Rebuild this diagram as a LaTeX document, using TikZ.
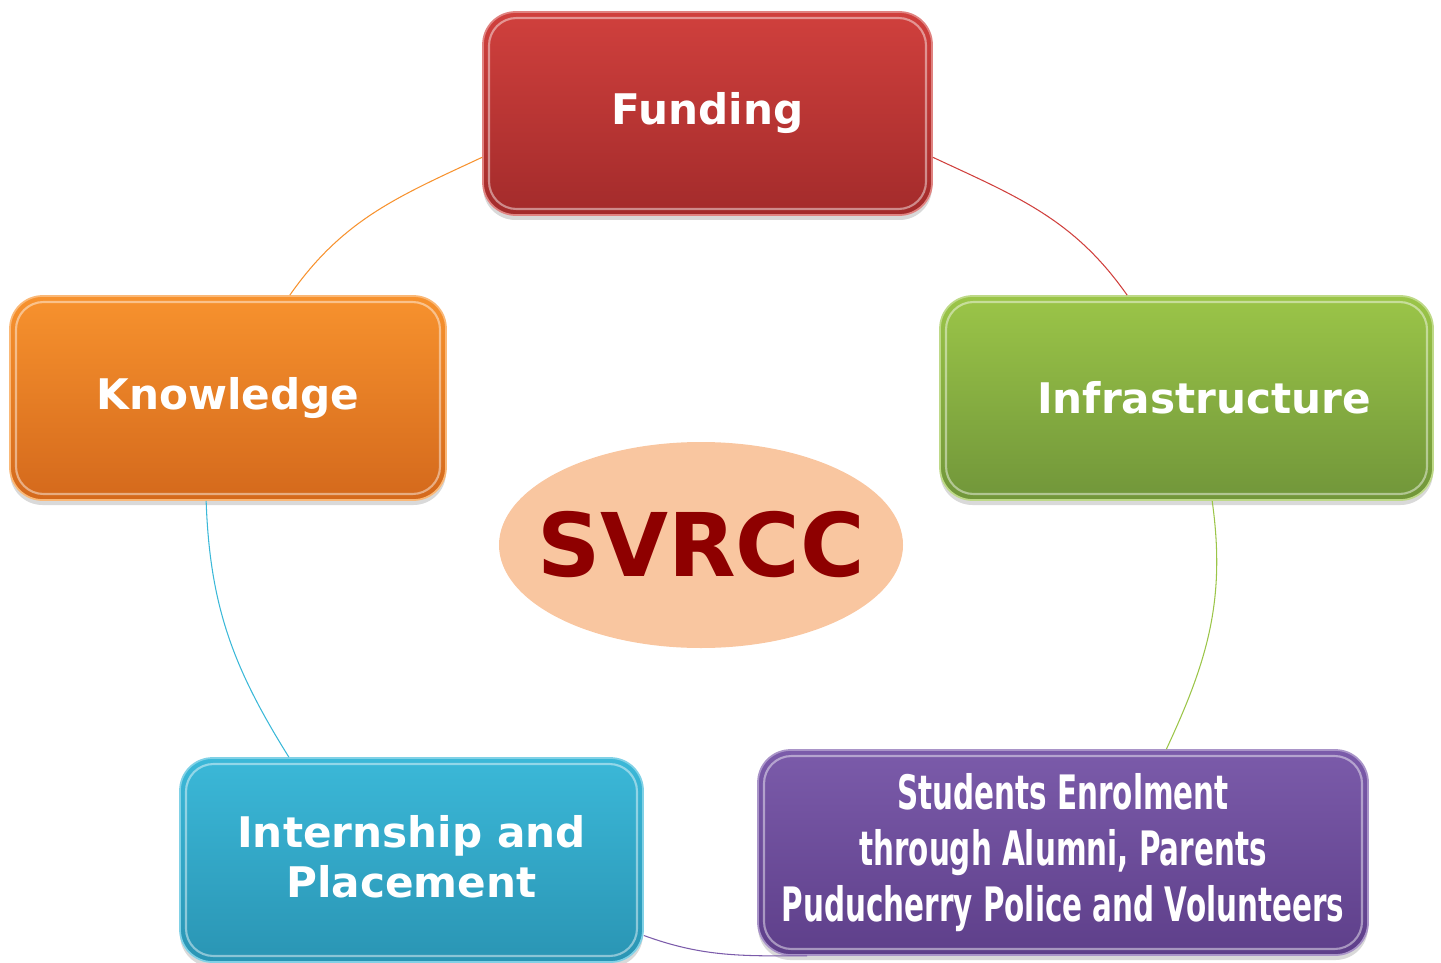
\documentclass[tikz,border=0pt]{standalone}
\usepackage{fontspec}
\setmainfont{DejaVu Sans}
\newfontfamily\narrowfont{DejaVu Sans}[FakeStretch=0.62]
\usetikzlibrary{shapes.geometric,shadows}
\definecolor{fundtop}{HTML}{D0403D}\definecolor{fundbot}{HTML}{A32B2B}
\definecolor{knowtop}{HTML}{F7922E}\definecolor{knowbot}{HTML}{D4691C}
\definecolor{infratop}{HTML}{9BC548}\definecolor{infrabot}{HTML}{71963A}
\definecolor{interntop}{HTML}{3BB8D8}\definecolor{internbot}{HTML}{2A95B4}
\definecolor{stutop}{HTML}{7B5BAA}\definecolor{stubot}{HTML}{5E3F8A}
\definecolor{svpeach}{HTML}{F9C6A0}\definecolor{svred}{HTML}{8E0000}

\begin{document}
\begin{tikzpicture}[box/.style 2 args={rectangle, rounded corners=0.65cm, minimum height=4.08cm, top color=#1, bottom color=#2, draw=#1!65!white, line width=1pt, text=white, align=center, font=\fontsize{24}{28.5}\selectfont\bfseries, drop shadow={opacity=0.3, shadow xshift=0cm, shadow yshift=-0.1cm}, path picture={\draw[white, opacity=0.45, line width=1.2pt, rounded corners=0.55cm] ([shift={(0.12,-0.12)}]path picture bounding box.north west) rectangle ([shift={(-0.12,0.12)}]path picture bounding box.south east);}}, link/.style={line width=0.6pt}]
\useasboundingbox (0,0) rectangle (28.82,19.24);
\node[ellipse, fill=svpeach, minimum width=8.08cm, minimum height=4.12cm, label={[text=svred, font=\fontsize{50}{55}\selectfont\bfseries]center:SVRCC}] (svrcc) at (14.02,8.34) {};
\node[box={fundtop}{fundbot}, minimum width=8.98cm, minimum height=4.06cm] (fund) at (14.15,16.97) {Funding};
\node[box={infratop}{infrabot}, minimum width=9.86cm] (infra) at (23.73,11.28) {\hspace{0.7cm}Infrastructure};
\node[box={stutop}{stubot}, minimum width=12.2cm, minimum height=4.1cm, font=\narrowfont\fontsize{27}{32}\selectfont\bfseries] (stu) at (21.26,2.19) {Students Enrolment\\through Alumni, Parents\\Puducherry Police and Volunteers};
\node[box={interntop}{internbot}, minimum width=9.26cm] (intern) at (8.23,2.04) {\raisebox{0.15cm}{Internship and}\\\raisebox{0.15cm}{Placement}};
\node[box={knowtop}{knowbot}, minimum width=8.72cm] (know) at (4.56,11.28) {Knowledge};
\draw[link, fundtop] (fund.-11) to[out=-25, in=125] (infra.120);
\draw[link, infratop] (infra.-76) to[out=-82, in=65] (stu.45);
\draw[link, stutop] (stu.-158) to[out=180, in=-20] (intern.-18);
\draw[link, interntop] (intern.140) to[out=122, in=-88] (know.-102);
\draw[link, knowtop] (know.59) to[out=55, in=205] (fund.191);
\end{tikzpicture}
\end{document}
